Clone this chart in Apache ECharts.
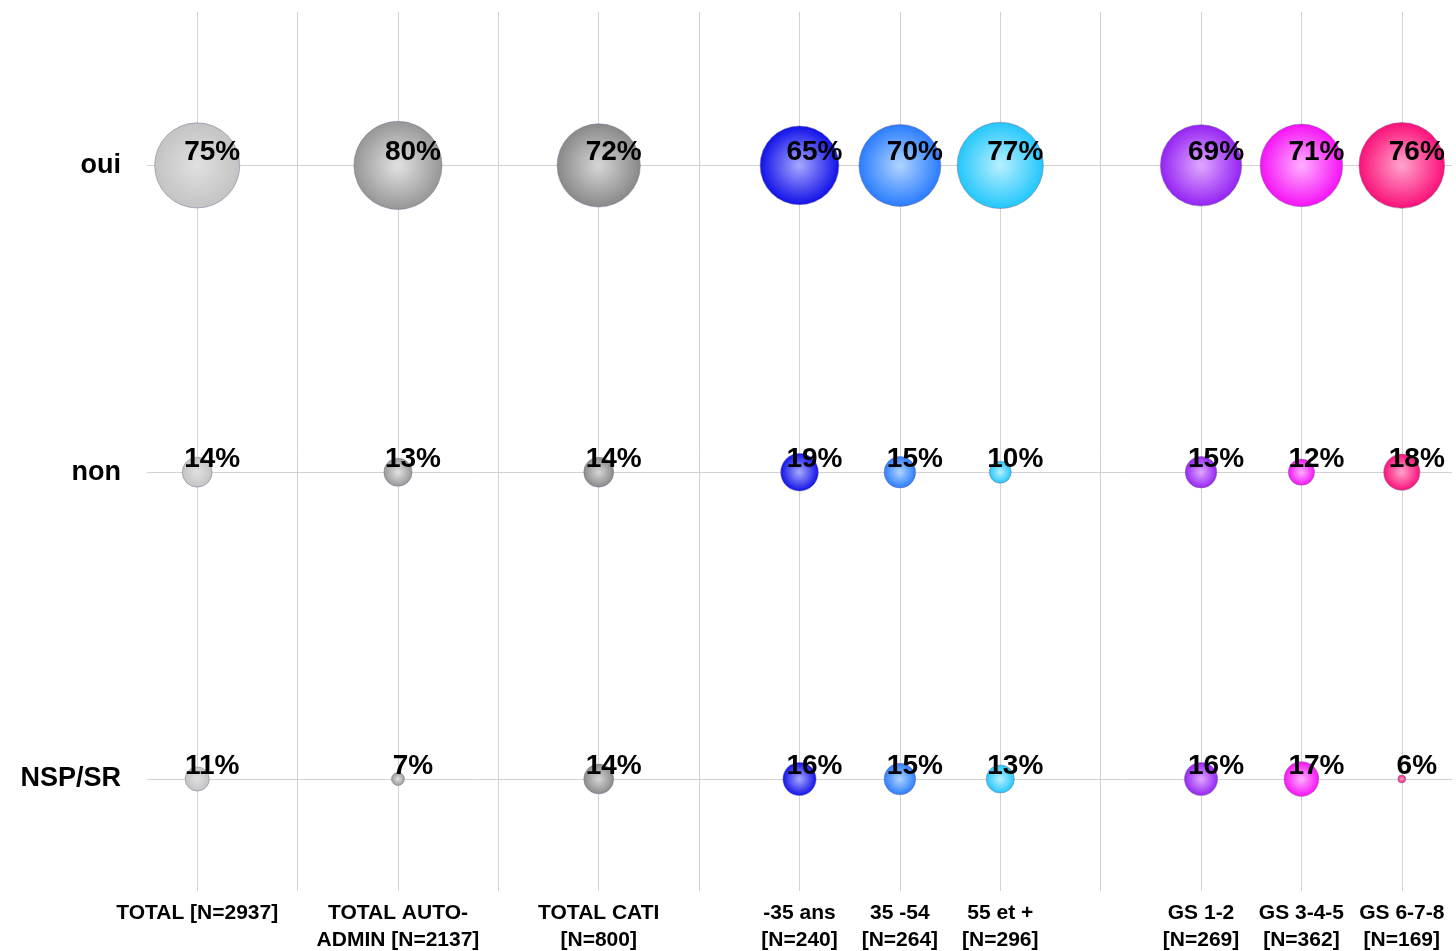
<!DOCTYPE html>
<html>
<head>
<meta charset="utf-8">
<script src="https://cdn.jsdelivr.net/npm/echarts@6/dist/echarts.min.js"></script>
<style>
  html, body { margin: 0; padding: 0; background: #ffffff; }
  #chart { width: 1456px; height: 951px; }
</style>
</head>
<body>
<div id="chart"></div>
<script>
// column labels and where they sit on the x scale (gaps between groups)
const columns = [
  'TOTAL [N=2937]',
  'TOTAL AUTO-\nADMIN [N=2137]',
  'TOTAL CATI\n[N=800]',
  '-35 ans\n[N=240]',
  '35 -54\n[N=264]',
  '55 et +\n[N=296]',
  'GS 1-2\n[N=269]',
  'GS 3-4-5\n[N=362]',
  'GS 6-7-8\n[N=169]'
];
const columnSlots = [0, 2, 4, 6, 7, 8, 10, 11, 12];
const gridSlots = [0, 1, 2, 3, 4, 5, 6, 7, 8, 9, 10, 11, 12];

const rowNames = ['oui', 'non', 'NSP/SR'];
const rowLevels = [3, 2, 1];

const ouiValues = [75, 80, 72, 65, 70, 77, 69, 71, 76];
const nonValues = [14, 13, 14, 19, 15, 10, 15, 12, 18];
const nspValues = [11, 7, 14, 16, 15, 13, 16, 17, 6];

const centerColors = ['#e0e0e0', '#e2e2e2', '#d6d6d6', '#a8a8ff', '#b0d4ff', '#b8efff', '#e0a8ff', '#ffb0ff', '#ffa4cc'];
const edgeColors = ['#c0c0c0', '#8e8e8e', '#808080', '#0000e6', '#1a72ff', '#12c2fa', '#8c14f2', '#f400f4', '#fa0070'];

const FONT = '"Liberation Sans", Arial, sans-serif';

function bubbleColor(i) {
  return {
    type: 'radial', x: 0.5, y: 0.5, r: 0.55,
    colorStops: [
      { offset: 0, color: centerColors[i] },
      { offset: 1, color: edgeColors[i] }
    ]
  };
}

function rowSeries(values, level) {
  return {
    type: 'scatter',
    data: values.map((v, i) => ({
      value: [columnSlots[i], level, v],
      itemStyle: { color: bubbleColor(i) }
    })),
    symbolSize: val => 10.2 * Math.sqrt(val[2] - 5.4),
    itemStyle: { borderColor: 'rgba(120,110,150,0.5)', borderWidth: 1, opacity: 1 },
    label: {
      show: true,
      position: 'inside',
      offset: [15, -13],
      formatter: p => p.value[2] + '%',
      color: '#000000',
      fontFamily: FONT,
      fontWeight: 'bold',
      fontSize: 28
    },
    emphasis: { disabled: true },
    z: 3
  };
}

const chart = echarts.init(document.getElementById('chart'));
chart.setOption({
  animation: false,
  backgroundColor: '#ffffff',
  grid: { left: 147, right: 4, top: 12, bottom: 60, containLabel: false, outerBoundsMode: 'none' },
  xAxis: {
    type: 'value',
    min: -0.5,
    max: 12.5,
    axisLine: { show: false },
    axisTick: { show: false, customValues: gridSlots },
    axisLabel: {
      customValues: columnSlots,
      formatter: v => columns[columnSlots.indexOf(v)],
      color: '#000000',
      fontFamily: FONT,
      fontWeight: 'bold',
      fontSize: 21,
      lineHeight: 27,
      margin: 9
    },
    splitLine: { show: true, lineStyle: { color: '#d2d2d2', width: 1 } }
  },
  yAxis: {
    type: 'value',
    min: 0.635,
    max: 3.5,
    axisLine: { show: false },
    axisTick: { show: false, customValues: rowLevels },
    axisLabel: {
      customValues: rowLevels,
      formatter: v => rowNames[rowLevels.indexOf(v)],
      color: '#000000',
      fontFamily: FONT,
      fontWeight: 'bold',
      fontSize: 27,
      margin: 26
    },
    splitLine: { show: true, lineStyle: { color: '#d2d2d2', width: 1 } }
  },
  series: [
    rowSeries(ouiValues, rowLevels[0]),
    rowSeries(nonValues, rowLevels[1]),
    rowSeries(nspValues, rowLevels[2])
  ]
});
</script>
</body>
</html>
